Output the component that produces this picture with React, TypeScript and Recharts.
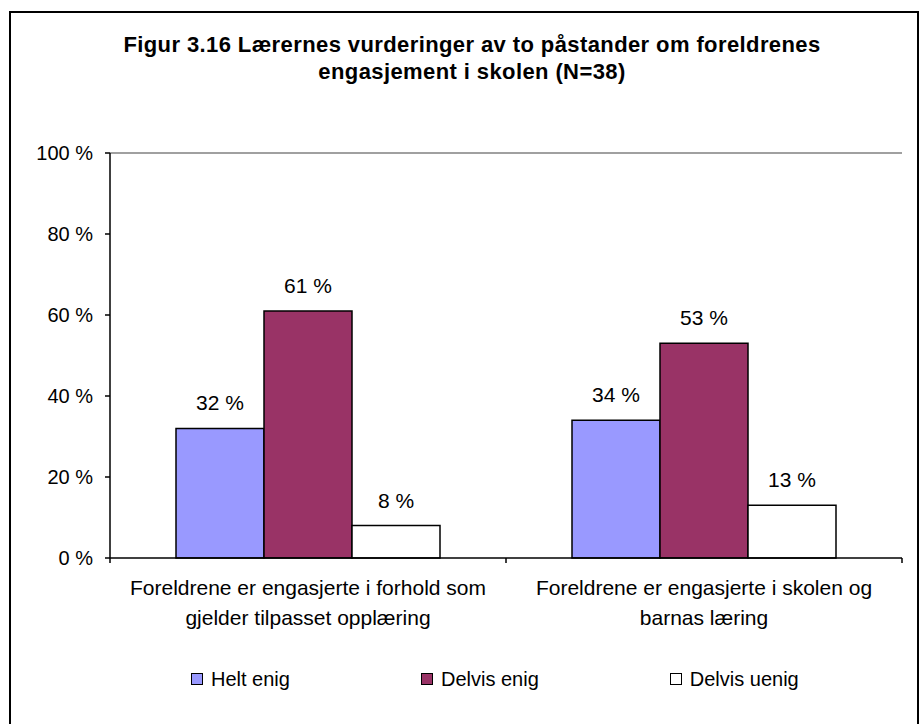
import { BarChart, Bar, XAxis, YAxis, Legend, LabelList, ReferenceLine } from 'recharts';

document.body.style.margin = '0';

// ─── Data ────────────────────────────────────────────────────────────────────

const CATEGORIES = [
  'Foreldrene er engasjerte i forhold som\ngjelder tilpasset opplæring',
  'Foreldrene er engasjerte i skolen og\nbarnas læring',
];
const SERIES_NAMES = ['Helt enig', 'Delvis enig', 'Delvis uenig'];
const HELT_ENIG    = [32, 34];
const DELVIS_ENIG  = [61, 53];
const DELVIS_UENIG = [8, 13];
const Y_TICKS = [0, 20, 40, 60, 80, 100];

const TITLE = [
  'Figur 3.16 Lærernes vurderinger av to påstander om foreldrenes',
  'engasjement i skolen (N=38)',
];

// ─── Style ───────────────────────────────────────────────────────────────────

const FONT = '"Liberation Sans", Arial, sans-serif';
const C = {
  helt:   '#9999FF',
  delvis: '#993366',
  uenig:  '#FFFFFF',
  frame:  '#808080',
  ink:    '#000000',
};
const COLORS = [C.helt, C.delvis, C.uenig];

const data = CATEGORIES.map((name, i) => ({
  name,
  helt: HELT_ENIG[i],
  delvis: DELVIS_ENIG[i],
  uenig: DELVIS_UENIG[i],
}));

const pct = (v: number) => `${v} %`;

// two-line category label + boundary tick marks (Excel style)
const CategoryTick = (props: any) => {
  const { x, y, payload, index } = props;
  const half = payload?.offset ?? 198;
  const lines = String(payload.value).split('\n');
  return (
    <g>
      {index === 0 && <line x1={x - half} x2={x - half} y1={y} y2={y + 5} stroke={C.ink} strokeWidth={1.5} />}
      <line x1={x + half} x2={x + half} y1={y} y2={y + 5} stroke={C.ink} strokeWidth={1.5} />
      {lines.map((l, i) => (
        <text key={i} x={x} y={y + 37 + i * 30} textAnchor="middle" fontSize={21} fontFamily={FONT} fill={C.ink}>
          {l}
        </text>
      ))}
    </g>
  );
};

// legend in series order (recharts sorts payload by default)
const LegendContent = () => (
  <div style={{ display: 'flex', alignItems: 'center', height: 24, paddingLeft: 191, fontFamily: FONT, fontSize: 20, color: C.ink, whiteSpace: 'nowrap' }}>
    {SERIES_NAMES.map((name, i) => (
      <div key={name} style={{ display: 'flex', alignItems: 'center', flexShrink: 0, marginRight: 131 }}>
        <span style={{ boxSizing: 'border-box', width: 12, height: 12, border: '1.5px solid #000', background: COLORS[i], marginRight: 8, flexShrink: 0 }} />
        <span>{name}</span>
      </div>
    ))}
  </div>
);

export default function App() {
  return (
    <div style={{ position: 'relative', width: 920, height: 724, background: '#fff', overflow: 'hidden' }}>
      {/* outer chart frame */}
      <div style={{ position: 'absolute', left: 9, top: 11, width: 910, height: 740, border: '2px solid #000', boxSizing: 'border-box' }} />

      <div style={{ position: 'absolute', left: 22, top: 31, width: 900, textAlign: 'center', fontFamily: FONT, fontWeight: 'bold', fontSize: 22, letterSpacing: 0.4, lineHeight: '27px', color: C.ink }}>
        {TITLE.map(t => <div key={t}>{t}</div>)}
      </div>

      <BarChart
        width={920}
        height={724}
        data={data}
        margin={{ top: 153, right: 18, left: 10, bottom: 30 }}
        barCategoryGap={66}
        barGap={0}
        style={{ position: 'absolute', left: 0, top: 0 }}
      >
        <XAxis
          dataKey="name"
          height={112}
          tick={<CategoryTick />}
          tickLine={false}
          tickSize={0}
          tickMargin={0}
          interval={0}
          axisLine={{ stroke: C.ink, strokeWidth: 1.5 }}
        />
        <YAxis
          width={100}
          domain={[0, 100]}
          ticks={Y_TICKS}
          tickFormatter={pct}
          tickSize={5}
          tickMargin={12}
          tick={{ fontSize: 20, fontFamily: FONT, fill: C.ink }}
          tickLine={{ stroke: C.ink, strokeWidth: 1.5 }}
          axisLine={{ stroke: C.ink, strokeWidth: 1.5 }}
        />
        <YAxis yAxisId="frame" orientation="right" width={0} domain={[0, 100]} tick={false} tickLine={false} axisLine={{ stroke: C.frame, strokeWidth: 1.5 }} />
        <ReferenceLine y={100} stroke={C.frame} strokeWidth={1.5} />
        <Legend
          verticalAlign="bottom"
          content={<LegendContent />}
          wrapperStyle={{ left: 0, top: 667, bottom: 'auto', width: 920 }}
        />
        <Bar dataKey="helt" name={SERIES_NAMES[0]} fill={C.helt} stroke={C.ink} strokeWidth={1.5} isAnimationActive={false}>
          <LabelList dataKey="helt" position="top" offset={18} formatter={pct} fontSize={21} fontFamily={FONT} fill={C.ink} />
        </Bar>
        <Bar dataKey="delvis" name={SERIES_NAMES[1]} fill={C.delvis} stroke={C.ink} strokeWidth={1.5} isAnimationActive={false}>
          <LabelList dataKey="delvis" position="top" offset={18} formatter={pct} fontSize={21} fontFamily={FONT} fill={C.ink} />
        </Bar>
        <Bar dataKey="uenig" name={SERIES_NAMES[2]} fill={C.uenig} stroke={C.ink} strokeWidth={1.5} isAnimationActive={false}>
          <LabelList dataKey="uenig" position="top" offset={18} formatter={pct} fontSize={21} fontFamily={FONT} fill={C.ink} />
        </Bar>
      </BarChart>
    </div>
  );
}
